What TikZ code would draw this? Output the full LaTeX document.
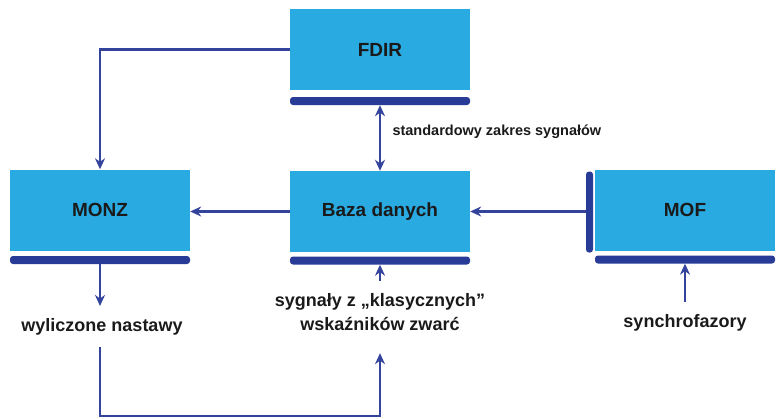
\documentclass[tikz,border=0pt]{standalone}
\usepackage{fontspec}
\setmainfont{Liberation Sans}
\usetikzlibrary{arrows.meta}
\definecolor{boxcyan}{HTML}{29ABE2}
\definecolor{bardark}{HTML}{283B96}
\definecolor{linkblue}{HTML}{34449C}
\definecolor{txtgray}{HTML}{1A1A1A}

\tikzset{
  modbox/.style={fill=boxcyan, minimum width=180pt, minimum height=81pt,
    font=\fontsize{19}{23}\selectfont\bfseries, text=txtgray},
  hbar/.style={fill=bardark, rounded corners=3pt, minimum width=180pt,
    minimum height=8pt, inner sep=0pt},
  vbar/.style={fill=bardark, rounded corners=3pt, minimum width=7pt,
    minimum height=81pt, inner sep=0pt},
  link/.style={draw=linkblue, line width=2.4pt,
    >={Stealth[length=11pt,width=10pt]}, ->},
  sig/.style={font=\fontsize{18}{24}\selectfont\bfseries, text=txtgray,
    inner sep=0pt, outer ysep=12pt, align=center},
}

\begin{document}
\begin{tikzpicture}[x=1pt, y=-1pt]
  \useasboundingbox (0,0) rectangle (782,418);

  % modules
  \node[modbox] (fdir) at (380,49.5) {FDIR};
  \node[hbar]   (fdirbar) at (380,101) {};
  \node[modbox] (monz) at (100,210) {MONZ};
  \node[hbar]   (monzbar) at (100,260) {};
  \node[modbox] (baza) at (380,211.5) {Baza danych};
  \node[hbar]   (bazabar) at (380,260.5) {};
  \node[modbox] (mof) at (685,210) {MOF};
  \node[vbar]   (mofside) at (589.5,212) {};
  \node[hbar]   (mofbar) at (685,259.5) {};

  % signal labels
  \node[sig, anchor=base] (nastawy) at (102,331) {wyliczone nastawy};
  \node[sig, anchor=base] (sygnaly) at (380,330) {sygnały z „klasycznych”\\wskaźników zwarć};
  \node[sig, anchor=base] (synchro) at (685,327) {synchrofazory};
  \coordinate (loop) at (100,416);

  % connections
  \draw[link] (fdir.west) -| (monz.north);
  \draw[link, <->]
    (fdirbar.south) -- node[pos=0.4, anchor=west, xshift=8pt,
      font=\fontsize{14.5}{17}\selectfont\bfseries, text=txtgray] (zakres)
      {standardowy zakres sygnałów} (baza.north);
  \draw[link] (baza.west) -- (baza.west -| monz.east);
  \draw[link] (mofside.west |- baza.east) -- (baza.east);
  \draw[link] (monzbar.south) -- (monzbar.south |- nastawy.north);
  \draw[link, shorten >=11pt] (monzbar.south |- nastawy.south) -- (loop) -| (sygnaly.south);
  \draw[link] (sygnaly.north) -- (bazabar.south);
  \draw[link] (synchro.north) -- (mofbar.south);
\end{tikzpicture}
\end{document}
